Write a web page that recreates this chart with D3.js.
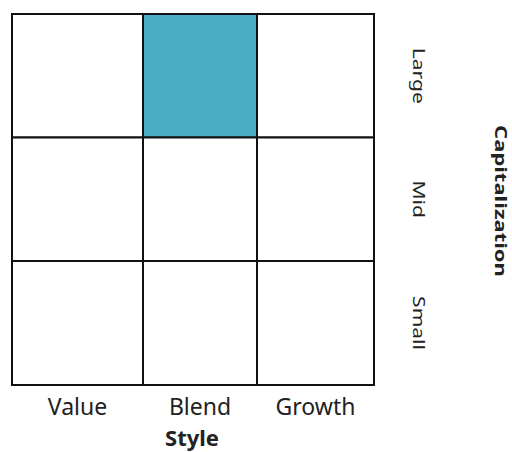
<!DOCTYPE html>
<html>
<head>
<meta charset="utf-8">
<script src="https://cdn.jsdelivr.net/npm/d3@7"></script>
<style>
  html, body { margin: 0; padding: 0; background: #fff; }
  svg { display: block; }
  text { font-family: "Noto Sans", "Open Sans", sans-serif; fill: #222; }
</style>
</head>
<body>
<svg id="chart" width="512" height="452"></svg>
<script>
// ---- data ----
const styles = ["Value", "Blend", "Growth"];
const caps = ["Large", "Mid", "Small"];
// 1 = highlighted style box cell, rows follow caps, columns follow styles
const values = [
  [0, 1, 0],
  [0, 0, 0],
  [0, 0, 0]
];
const xTitle = "Style";
const yTitle = "Capitalization";

// ---- scales ----
const svg = d3.select("#chart");
const colEdge = d3.scaleLinear().domain([0, 1, 2, 3]).range([12, 143, 257, 374]);
const rowEdge = d3.scaleLinear().domain([0, 1, 2, 3]).range([14, 137.5, 261, 385]);
const color = d3.scaleOrdinal().domain([0, 1]).range(["#ffffff", "#4bacc6"]);

const cells = [];
values.forEach((row, r) => row.forEach((v, c) => cells.push({ r, c, v, style: styles[c], cap: caps[r] })));

// cells
svg.append("g").selectAll("rect").data(cells).join("rect")
  .attr("x", d => colEdge(d.c))
  .attr("y", d => rowEdge(d.r))
  .attr("width", d => colEdge(d.c + 1) - colEdge(d.c))
  .attr("height", d => rowEdge(d.r + 1) - rowEdge(d.r))
  .attr("fill", d => color(d.v))
  .attr("stroke", "#111")
  .attr("stroke-width", 2);

// x labels (style)
svg.append("g").selectAll("text").data(styles).join("text")
  .attr("x", (d, i) => (colEdge(i) + colEdge(i + 1)) / 2)
  .attr("y", 415)
  .attr("text-anchor", "middle")
  .attr("font-size", 23)
  .attr("fill", "#333")
  .text(d => d);

svg.append("text")
  .attr("x", 192)
  .attr("y", 446)
  .attr("text-anchor", "middle")
  .attr("font-size", 22)
  .attr("font-weight", "bold")
  .text(xTitle);

// y labels (capitalization), rotated
svg.append("g").selectAll("text").data(caps).join("text")
  .attr("transform", (d, i) => `translate(413,${(rowEdge(i) + rowEdge(i + 1)) / 2}) rotate(90) scale(1,0.73)`)
  .attr("text-anchor", "middle")
  .attr("font-size", 21)
  .attr("fill", "#333")
  .text(d => d);

svg.append("text")
  .attr("transform", `translate(495,201) rotate(90) scale(1,0.73)`)
  .attr("text-anchor", "middle")
  .attr("font-size", 22)
  .attr("font-weight", "bold")
  .text(yTitle);
</script>
</body>
</html>
